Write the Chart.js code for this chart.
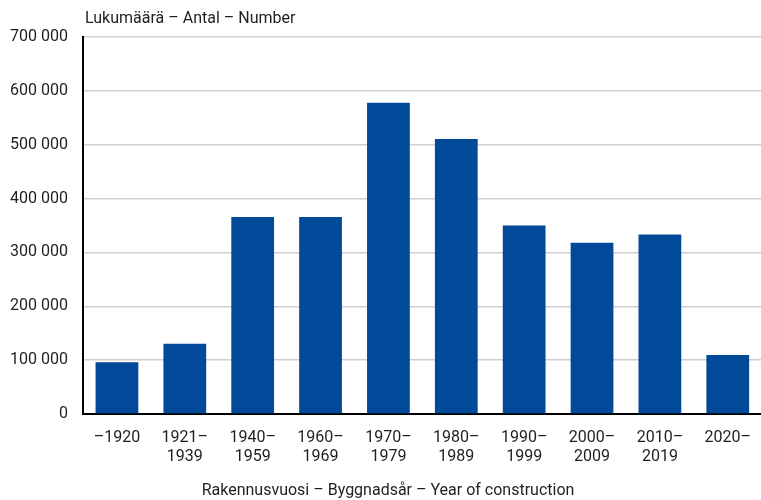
<!DOCTYPE html>
<html>
<head>
<meta charset="utf-8">
<script src="https://cdn.jsdelivr.net/npm/chart.js@4"></script>
<style>
  html, body { margin: 0; padding: 0; background: #ffffff; overflow: hidden; }
  #wrap { width: 761px; height: 500px; overflow: hidden; }
</style>
</head>
<body>
<div id="wrap"><canvas id="yearChart" width="765" height="500"></canvas></div>
<script>
// Rakennukset rakennusvuoden mukaan – pylväät luettu kuvasta
const YEAR_LABELS = [
    "–1920", ["1921–", "1939"], ["1940–", "1959"], ["1960–", "1969"], ["1970–", "1979"],
    ["1980–", "1989"], ["1990–", "1999"], ["2000–", "2009"], ["2010–", "2019"], "2020–"
];
const BUILDING_COUNTS = [96000, 130500, 366000, 366000, 578000, 510500, 350000, 318000, 333500, 109500];
const Y_TICKS = [0, 100000, 200000, 300000, 400000, 500000, 600000, 700000];

const Y_TITLE = "Lukumäärä – Antal – Number";
const X_TITLE = "Rakennusvuosi – Byggnadsår – Year of construction";

const BAR_COLOR = "#004a99";
const TEXT_COLOR = "#1f1f1f";
const FONT = "Roboto";

// tuhaterotin välilyönnillä: 700 000
function formatThousands(value) {
    return String(value).replace(/\B(?=(\d{3})+(?!\d))/g, " ");
}

// akselien otsikot piirretään itse, jotta paikat saadaan kohdalleen
const axisTitles = {
    id: "axisTitles",
    afterDraw(chart) {
        const ctx = chart.ctx;
        ctx.save();
        ctx.fillStyle = TEXT_COLOR;
        ctx.font = `16px ${FONT}`;
        ctx.textBaseline = "middle";
        ctx.textAlign = "left";
        ctx.fillText(Y_TITLE, chart.chartArea.left + 2, 19);
        ctx.textAlign = "center";
        ctx.fillText(X_TITLE, 388, 491);
        ctx.restore();
    }
};

new Chart(document.getElementById("yearChart"), {
    type: "bar",
    data: {
        labels: YEAR_LABELS,
        datasets: [{
            data: BUILDING_COUNTS,
            backgroundColor: BAR_COLOR,
            borderWidth: 0,
            categoryPercentage: 1,
            barPercentage: 0.63
        }]
    },
    options: {
        responsive: false,
        animation: false,
        layout: { padding: { top: 37, right: 0, bottom: 0, left: 0 } },
        plugins: {
            legend: { display: false },
            tooltip: { enabled: false }
        },
        scales: {
            x: {
                grid: { display: false, drawTicks: false },
                border: { color: "#000000", width: 2 },
                ticks: {
                    color: TEXT_COLOR,
                    font: { family: FONT, size: 16 },
                    padding: 14,
                    maxRotation: 0,
                    autoSkip: false
                },
                afterFit(scale) { scale.height = 86; }
            },
            y: {
                min: 0,
                max: 700000,
                afterBuildTicks(scale) {
                    scale.ticks = Y_TICKS.map((value) => ({ value }));
                },
                grid: {
                    color: (c) => (c.tick && c.tick.value === 0 ? "rgba(0,0,0,0)" : "#cfcfcf"),
                    lineWidth: 1.5,
                    drawTicks: false
                },
                border: { color: "#000000", width: 2 },
                ticks: {
                    color: TEXT_COLOR,
                    font: { family: FONT, size: 16 },
                    padding: 15,
                    callback: (value) => formatThousands(value)
                },
                afterFit(scale) { scale.width = 83; }
            }
        }
    },
    plugins: [axisTitles]
});
</script>
</body>
</html>
